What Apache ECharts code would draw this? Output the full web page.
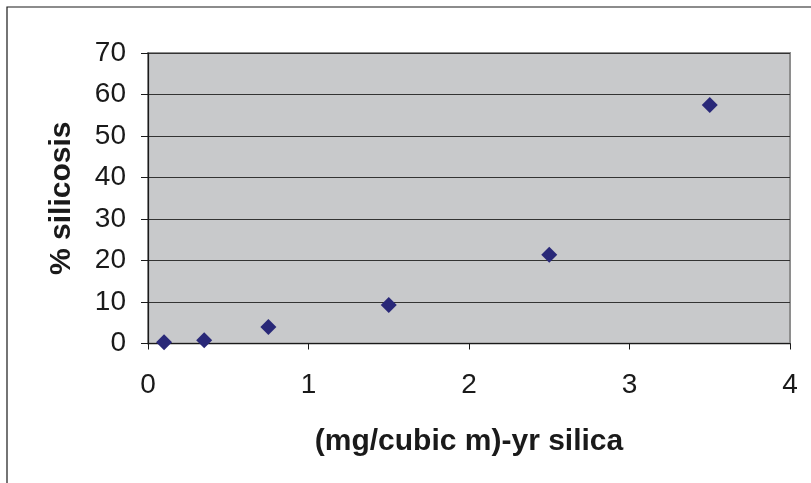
<!DOCTYPE html>
<html>
<head>
<meta charset="utf-8">
<script src="https://cdn.jsdelivr.net/npm/echarts@6/dist/echarts.min.js"></script>
<style>
  html, body { margin: 0; padding: 0; background: #fff; }
  #chart { width: 811px; height: 483px; }
</style>
</head>
<body>
<div id="chart"></div>
<script>
// Cumulative exposure, (mg/cubic m)-yr silica
var exposure = [0.1, 0.35, 0.75, 1.5, 2.5, 3.5];
// Share of workers with silicosis, %
var silicosis = [0.3, 0.8, 4.0, 9.3, 21.4, 57.5];

var xTicks = [0, 1, 2, 3, 4];
var yTicks = [0, 10, 20, 30, 40, 50, 60, 70];

var points = exposure.map(function (x, i) { return [x, silicosis[i]]; });

var chart = echarts.init(document.getElementById('chart'), null, { renderer: 'canvas' });

var labelFont = { fontFamily: '"Liberation Sans", Arial, sans-serif', fontSize: 28, color: '#1a1a1a' };
var titleFont = { fontFamily: '"Liberation Sans", Arial, sans-serif', fontSize: 30, fontWeight: 'bold', color: '#1a1a1a' };

chart.setOption({
  animation: false,
  backgroundColor: '#ffffff',
  graphic: [{
    type: 'rect',
    shape: { x: 7, y: 7, width: 900, height: 600 },
    style: { fill: 'none', stroke: '#1a1a1a', lineWidth: 1.2 },
    z: 0
  }],
  grid: {
    left: 148, right: 21, top: 53, bottom: 139.5,
    show: true,
    backgroundColor: '#c8c9cb',
    borderColor: '#8e8e8e',
    borderWidth: 2
  },
  xAxis: {
    type: 'value',
    min: xTicks[0], max: xTicks[xTicks.length - 1], interval: 1,
    name: '(mg/cubic m)-yr silica',
    nameLocation: 'middle',
    nameGap: 83,
    nameTextStyle: titleFont,
    axisLine: { show: true, onZero: false, lineStyle: { color: '#1a1a1a', width: 1.2 } },
    axisTick: { show: true, length: 6, lineStyle: { color: '#1a1a1a' } },
    axisLabel: Object.assign({ margin: 28 }, labelFont),
    splitLine: { show: false }
  },
  yAxis: {
    type: 'value',
    min: yTicks[0], max: yTicks[yTicks.length - 1], interval: 10,
    name: '% silicosis',
    nameLocation: 'middle',
    nameGap: 71,
    nameRotate: 90,
    nameTextStyle: titleFont,
    axisLine: { show: true, onZero: false, lineStyle: { color: '#1a1a1a', width: 1.2 } },
    axisTick: { show: true, length: 7, lineStyle: { color: '#1a1a1a' } },
    axisLabel: Object.assign({ margin: 22 }, labelFont),
    splitLine: { show: true, lineStyle: { color: '#333333', width: 1.2 } }
  },
  series: [{
    type: 'scatter',
    data: points,
    symbol: 'diamond',
    symbolSize: 16,
    itemStyle: { color: '#292878', opacity: 1 }
  }]
});
</script>
</body>
</html>
